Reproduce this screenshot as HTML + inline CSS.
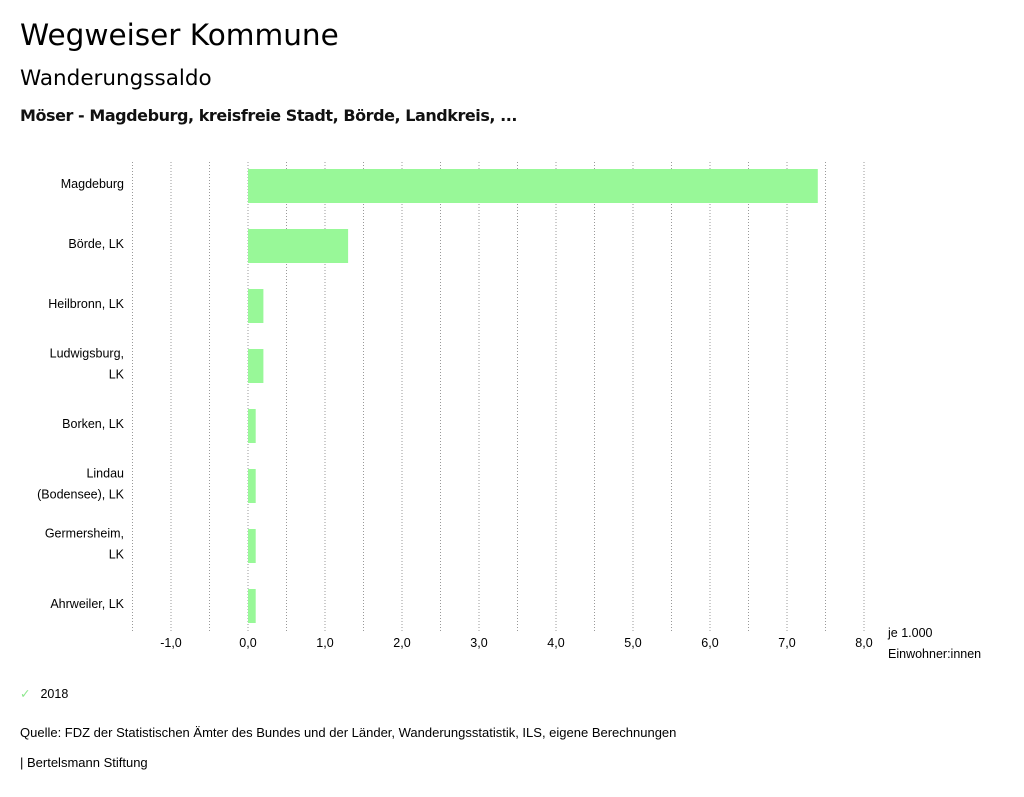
<!DOCTYPE html>
<html><head><meta charset="utf-8">
<style>
body{margin:0;width:1024px;height:797px;background:#fff;font-family:"Liberation Sans",sans-serif;color:#000;position:relative;overflow:hidden}
.t{position:absolute;white-space:nowrap}
</style></head>
<body>
<div class="t" style="left:20px;top:18px;font-family:'DejaVu Sans',sans-serif;font-size:29.5px">Wegweiser Kommune</div>
<div class="t" style="left:20px;top:66px;font-family:'DejaVu Sans',sans-serif;font-size:21.5px">Wanderungssaldo</div>
<div class="t" style="left:20px;top:106px;font-family:'DejaVu Sans',sans-serif;font-size:16px;font-weight:bold;letter-spacing:-0.45px;color:#111">Möser - Magdeburg, kreisfreie Stadt, Börde, Landkreis, ...</div>
<svg id="chart" width="1024" height="680" style="position:absolute;left:0;top:0" font-family="Liberation Sans, sans-serif" font-size="12.5"></svg>
<div class="t" style="left:20px;top:686px;font-size:12.5px"><span style="color:#8fe88f;margin-right:10px">✓</span>2018</div>
<div class="t" style="left:20px;top:725px;font-size:13px">Quelle: FDZ der Statistischen Ämter des Bundes und der Länder, Wanderungsstatistik, ILS, eigene Berechnungen</div>
<div class="t" style="left:20px;top:755px;font-size:13px">| Bertelsmann Stiftung</div>
<script>
const categories=[["Magdeburg"],["Börde, LK"],["Heilbronn, LK"],["Ludwigsburg,","LK"],["Borken, LK"],["Lindau","(Bodensee), LK"],["Germersheim,","LK"],["Ahrweiler, LK"]];
const values2018=[7.4,1.3,0.2,0.2,0.1,0.1,0.1,0.1];
const tickValues=[-1,0,1,2,3,4,5,6,7,8];
const tickLabels=["-1,0","0,0","1,0","2,0","3,0","4,0","5,0","6,0","7,0","8,0"];
const gridValues=[-1.5,-1,-0.5,0,0.5,1,1.5,2,2.5,3,3.5,4,4.5,5,5.5,6,6.5,7,7.5,8];
const svg=document.getElementById('chart');
const NS='http://www.w3.org/2000/svg';
const x=v=>248+v*77;
const rowY=i=>186+i*60;
function mk(t,a){const e=document.createElementNS(NS,t);for(const k in a)e.setAttribute(k,a[k]);svg.appendChild(e);return e;}
gridValues.forEach(v=>{
  const l=mk('line',{x1:x(v),x2:x(v),y1:162,y2:632,stroke:'#999','stroke-width':1,'stroke-dasharray':'1,2'});
  
  
});
tickValues.forEach((v,i)=>{
  const t=mk('text',{x:x(v),y:647,'text-anchor':'middle'});t.textContent=tickLabels[i];
  
  
});
const u1=mk('text',{x:888,y:637});u1.textContent='je 1.000';


const u2=mk('text',{x:888,y:658});u2.textContent='Einwohner:innen';


categories.forEach((c,i)=>{
  const cy=rowY(i);
  c.forEach((line,j)=>{
    const t=mk('text',{x:124,y:cy+2+(j-(c.length-1)/2)*21,'text-anchor':'end'});t.textContent=line;
    
    
  });
  const v=values2018[i];
  const r=mk('rect',{x:Math.min(x(0),x(v)),y:cy-17,width:Math.abs(x(v)-x(0)),height:34,fill:'#98f898'});
  
  
});
</script>
</body></html>
